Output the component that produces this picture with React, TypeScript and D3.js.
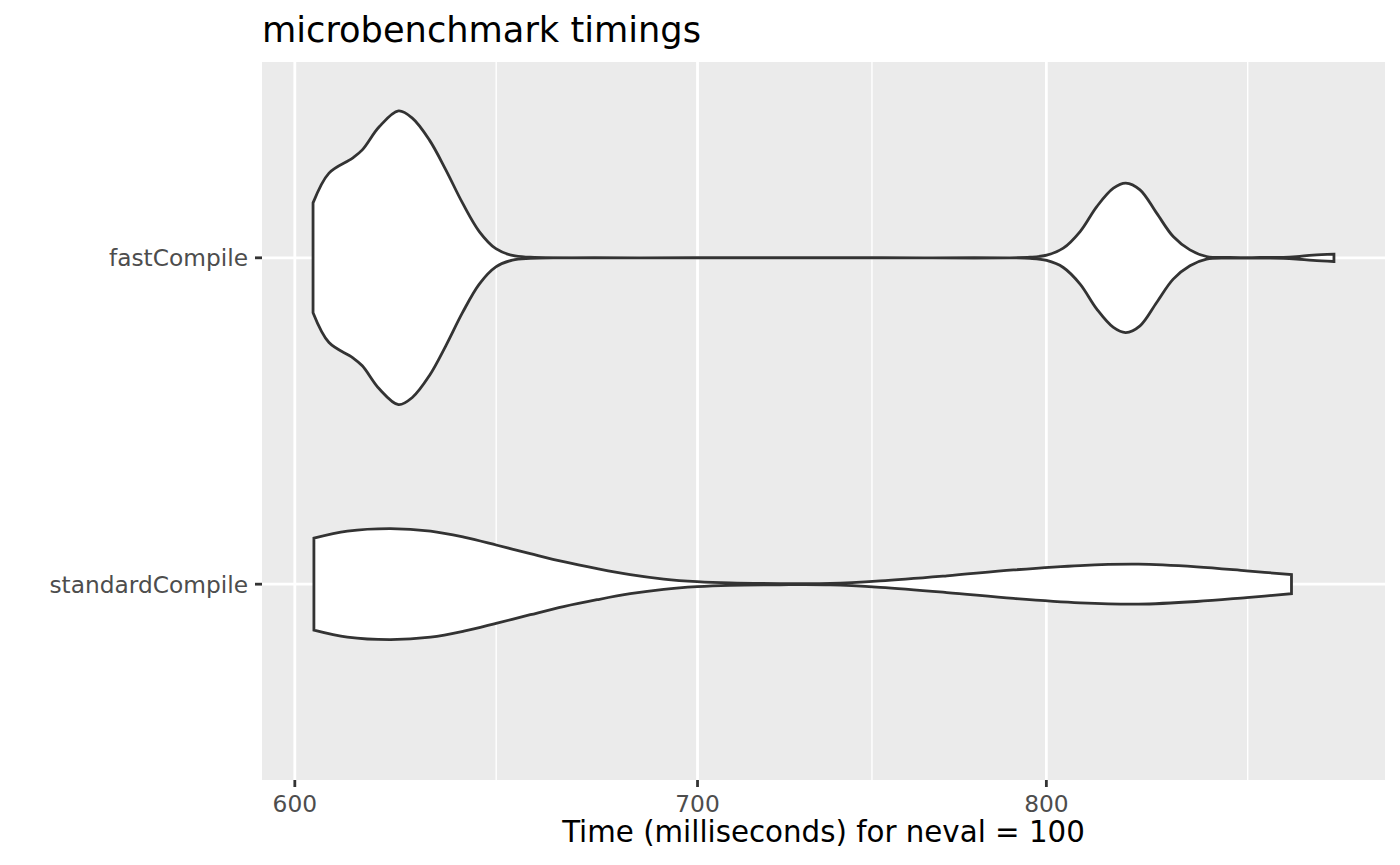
import * as d3 from "d3";
import React from "react";

// categories, top to bottom
const groups = ["fastCompile", "standardCompile"];

// violin outlines: time (ms) and relative density (1 = widest)
const fastTimes = [
  604.2, 607.9, 613.4, 615.7, 619.7, 624.3, 627.6, 631.7, 635.7, 639.8, 643.9,
  648.0, 652.1, 656.6, 700, 750, 795.0, 800.1, 805.2, 810.4, 815.6, 820.8,
  824.7, 829.2, 834.5, 839.8, 845.2, 850.6, 858.2, 868.1, 876.0, 880.4, 886.0,
  893.1,
];
const fastDensity = [
  0.374, 0.577, 0.679, 0.735, 0.892, 1.0, 0.951, 0.803, 0.599, 0.372, 0.179,
  0.062, 0.016, 0.004, 0.001, 0.001, 0.004, 0.018, 0.066, 0.179, 0.349, 0.474,
  0.509, 0.463, 0.304, 0.145, 0.054, 0.009, 0.002, 0.002, 0.003, 0.008, 0.018,
  0.025,
];

const standardTimes = [
  604.4, 612.2, 622.4, 632.0, 640.1, 648.3, 656.6, 665.0, 673.6, 682.2, 691.0,
  699.9, 708.8, 722.5, 736.5, 750.7, 770.1, 790.0, 810.4, 828.7, 847.4, 863.7,
  878.7,
];
const standardDensity = [
  0.313, 0.361, 0.378, 0.361, 0.32, 0.265, 0.208, 0.153, 0.106, 0.065, 0.035,
  0.017, 0.008, 0.004, 0.005, 0.022, 0.057, 0.097, 0.127, 0.136, 0.118, 0.091,
  0.065,
];

const xTicks = [600, 700, 800];

const title = "microbenchmark timings";
const xTitle = "Time (milliseconds) for neval = 100";

const font = "'DejaVu Sans', 'Liberation Sans', sans-serif";

const App = () => {
  const width = 1400;
  const height = 865;
  const left = 262;
  const right = 1385;
  const top = 62;
  const bottom = 780;

  const series = [
    { name: groups[0], times: fastTimes, dens: fastDensity },
    { name: groups[1], times: standardTimes, dens: standardDensity },
  ];

  // log x scale with ggplot's 5% expansion in transformed space
  const allTimes = [...fastTimes, ...standardTimes];
  const lo = Math.log10(d3.min(allTimes)!);
  const hi = Math.log10(d3.max(allTimes)!);
  const pad = (hi - lo) * 0.05;
  const x = d3
    .scaleLog()
    .domain([10 ** (lo - pad), 10 ** (hi + pad)])
    .range([left, right]);

  const y = d3.scalePoint<string>().domain(groups).range([top, bottom]).padding(0.6);
  const halfWidth = d3.scaleLinear().domain([0, 1]).range([0, y.step() * 0.45]);

  // minor breaks: midpoints between majors in log space (ggplot style)
  const tb = xTicks.map((t) => Math.log10(t));
  const bd = tb[1] - tb[0];
  const ext = [tb[0] - bd, ...tb, tb[tb.length - 1] + bd];
  const [d0, d1] = x.domain().map((v) => Math.log10(v));
  const minor = ext
    .slice(0, -1)
    .map((b, i) => 10 ** ((b + ext[i + 1]) / 2))
    .filter((v) => Math.log10(v) > d0 && Math.log10(v) < d1);

  const violinPath = (s: (typeof series)[number]) => {
    const cy = y(s.name)!;
    const pts = s.times.map((t, i) => [t, s.dens[i]] as [number, number]);
    return d3
      .area<[number, number]>()
      .x((d) => x(d[0]))
      .y0((d) => cy + halfWidth(d[1]))
      .y1((d) => cy - halfWidth(d[1]))
      .curve(d3.curveCatmullRom.alpha(0.5))(pts)!;
  };

  return (
    <svg
      width={width}
      height={height}
      style={{ position: "absolute", left: 0, top: 0, display: "block", background: "#fff" }}
      fontFamily={font}
    >
      <rect x={left} y={top} width={right - left} height={bottom - top} fill="#EBEBEB" />
      {/* minor grid */}
      {minor.map((m) => (
        <line key={"m" + m} x1={x(m)} x2={x(m)} y1={top} y2={bottom} stroke="#fff" strokeWidth={1.4} />
      ))}
      {/* major grid */}
      {xTicks.map((t) => (
        <line key={"g" + t} x1={x(t)} x2={x(t)} y1={top} y2={bottom} stroke="#fff" strokeWidth={2.8} />
      ))}
      {groups.map((g) => (
        <line key={"h" + g} x1={left} x2={right} y1={y(g)} y2={y(g)} stroke="#fff" strokeWidth={2.8} />
      ))}

      {/* violins */}
      {series.map((s) => (
        <path
          key={s.name}
          d={violinPath(s)}
          fill="#fff"
          stroke="#333333"
          strokeWidth={2.8}
          strokeLinejoin="miter"
        />
      ))}

      {/* y axis */}
      {groups.map((g) => (
        <g key={"ya" + g}>
          <line x1={left - 7} x2={left} y1={y(g)} y2={y(g)} stroke="#333333" strokeWidth={2.8} />
          <text
            x={left - 14}
            y={y(g)}
            dy="0.36em"
            textAnchor="end"
            fontSize={23.3}
            fill="#4D4D4D"
          >
            {g}
          </text>
        </g>
      ))}

      {/* x axis */}
      {xTicks.map((t) => (
        <g key={"xa" + t}>
          <line x1={x(t)} x2={x(t)} y1={bottom} y2={bottom + 7} stroke="#333333" strokeWidth={2.8} />
          <text x={x(t)} y={812} textAnchor="middle" fontSize={23.3} fill="#4D4D4D">
            {t}
          </text>
        </g>
      ))}
      <text x={(left + right) / 2} y={842} textAnchor="middle" fontSize={29.3} fill="#000">
        {xTitle}
      </text>

      <text x={left} y={42} fontSize={35.2} fill="#000">
        {title}
      </text>
    </svg>
  );
};

export default App;
